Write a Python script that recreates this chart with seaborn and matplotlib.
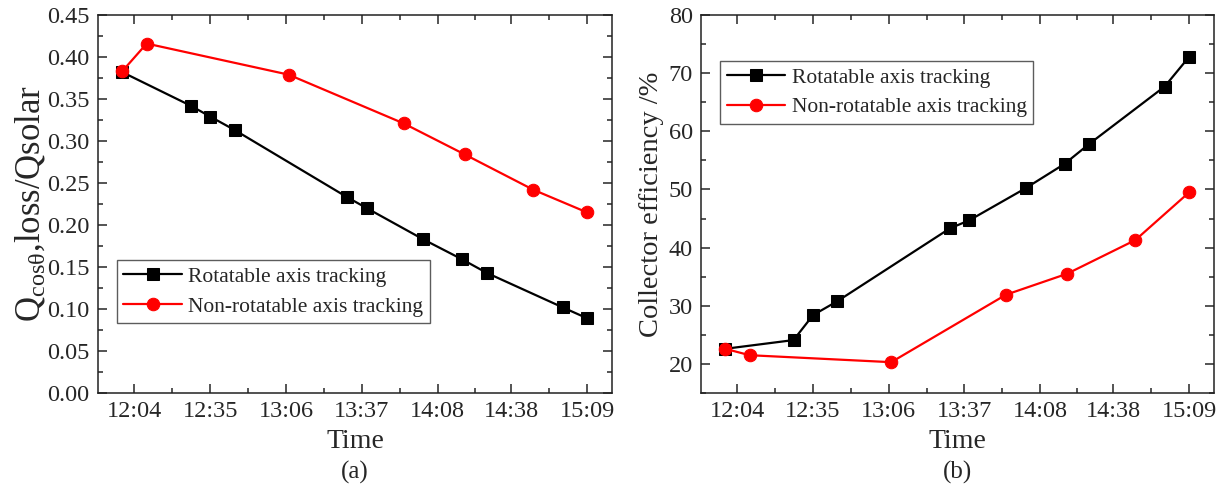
import numpy as np
import pandas as pd
import matplotlib
matplotlib.use("Agg")
import matplotlib.pyplot as plt
import seaborn as sns
from matplotlib.ticker import AutoMinorLocator, MultipleLocator, FixedLocator

# data
tick_labels = ["12:04", "12:35", "13:06", "13:37", "14:08", "14:38", "15:09"]
times_rot = ["11:59", "12:27", "12:35", "12:45", "13:31", "13:39", "14:02", "14:18", "14:28", "14:59", "15:09"]
times_non = ["11:59", "12:09", "13:07", "13:54", "14:19", "14:47", "15:09"]
ratio_rot = [0.382, 0.342, 0.329, 0.313, 0.233, 0.220, 0.183, 0.159, 0.143, 0.102, 0.089]
ratio_non = [0.383, 0.416, 0.379, 0.321, 0.284, 0.242, 0.215]
eff_rot = [22.6, 24.1, 28.4, 30.8, 43.3, 44.7, 50.2, 54.4, 57.8, 67.7, 72.8]
eff_non = [22.6, 21.5, 20.3, 31.9, 35.5, 41.3, 49.5]

lab_rot = "Rotatable axis tracking"
lab_non = "Non-rotatable axis tracking"


def to_min(t):
    h, m = t.split(":")
    return int(h) * 60 + int(m) - (12 * 60 + 4)


sns.set_style("ticks")
plt.rcParams["font.family"] = ["Liberation Serif", "DejaVu Serif"]
plt.rcParams["mathtext.fontset"] = "custom"
plt.rcParams["mathtext.rm"] = "Liberation Serif"
plt.rcParams["mathtext.it"] = "Liberation Serif:italic"

df_rot = pd.DataFrame({"t": [to_min(t) for t in times_rot], "ratio": ratio_rot, "eff": eff_rot})
df_non = pd.DataFrame({"t": [to_min(t) for t in times_non], "ratio": ratio_non, "eff": eff_non})

fig = plt.figure(figsize=(12.27, 4.91), dpi=100)
ax1 = fig.add_axes([98 / 1227, 1 - 393 / 491, 514 / 1227, 378 / 491])
ax2 = fig.add_axes([701 / 1227, 1 - 393 / 491, 513 / 1227, 378 / 491])

for ax, col in [(ax1, "ratio"), (ax2, "eff")]:
    sns.lineplot(data=df_rot, x="t", y=col, ax=ax, color="black", marker="s", markersize=8,
                 markeredgecolor="black", linewidth=1.6, label=lab_rot)
    sns.lineplot(data=df_non, x="t", y=col, ax=ax, color="#ff0000", marker="o", markersize=9,
                 markeredgecolor="#ff0000", linewidth=1.6, label=lab_non)

    ticks = [to_min(t) for t in tick_labels]
    ax.set_xlim(-14.9, 195.2)
    ax.xaxis.set_major_locator(FixedLocator(ticks))
    ax.set_xticklabels(tick_labels)
    ax.xaxis.set_minor_locator(FixedLocator([(a + b) / 2 for a, b in zip(ticks[:-1], ticks[1:])]))
    ax.yaxis.set_minor_locator(AutoMinorLocator(2))
    ax.tick_params(which="both", direction="in", top=True, right=True, width=1.1, labelsize=17.5, pad=6)
    ax.tick_params(which="major", length=6.5)
    ax.tick_params(which="minor", length=3.5)
    for s in ax.spines.values():
        s.set_linewidth(1.1)
        s.set_color("#222222")
    ax.set_xlabel("Time", fontsize=20)
    ax.xaxis.set_label_coords(0.5, -0.095)

ax1.set_ylim(0, 0.45)
ax1.yaxis.set_major_locator(MultipleLocator(0.05))
ax1.yaxis.set_major_formatter(matplotlib.ticker.FormatStrFormatter("%.2f"))
ax1.set_ylabel(r"Q$_{\mathrm{cos\theta}}$,loss/Qsolar", fontsize=25, labelpad=0)

ax2.set_ylim(15, 80)
ax2.yaxis.set_major_locator(MultipleLocator(10))
ax2.yaxis.set_minor_locator(MultipleLocator(5))
ax2.set_ylabel("Collector efficiency /%", fontsize=20.5, labelpad=3)

leg_kw = dict(fontsize=15.5, frameon=True, fancybox=False, edgecolor="#333333", borderaxespad=0,
              handlelength=2.7, handletextpad=0.3, borderpad=0.3, labelspacing=0.45)
l1 = ax1.legend(loc="lower left", bbox_to_anchor=(0.037, 0.185), **leg_kw)
l2 = ax2.legend(loc="upper left", bbox_to_anchor=(0.038, 0.878), **leg_kw)
for l in (l1, l2):
    l.get_frame().set_linewidth(1.0)

ax1.text(0.5, -0.21, "(a)", transform=ax1.transAxes, ha="center", va="center", fontsize=18)
ax2.text(0.5, -0.21, "(b)", transform=ax2.transAxes, ha="center", va="center", fontsize=18)

fig.savefig("out.png", dpi=100)
